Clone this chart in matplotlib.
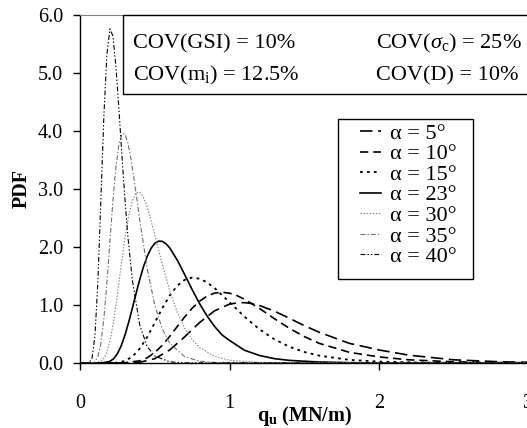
import matplotlib
matplotlib.use("Agg")
import matplotlib.pyplot as plt
from matplotlib.patches import Rectangle

plt.rcParams['font.family'] = ['Liberation Serif', 'DejaVu Serif']
plt.rcParams['mathtext.fontset'] = 'custom'
plt.rcParams['mathtext.rm'] = 'Liberation Serif'
plt.rcParams['mathtext.it'] = 'Liberation Serif:italic'
plt.rcParams['mathtext.bf'] = 'Liberation Serif:bold'
plt.rcParams['lines.scale_dashes'] = False

# ---- data ----
x_a5 = [0, 0.30, 0.40, 0.50, 0.60, 0.70, 0.80, 0.90, 1.0, 1.05, 1.1, 1.15, 1.2, 1.3, 1.4, 1.5, 1.6, 1.8, 2.0, 2.2, 2.5, 2.8, 3.0]
y_a5 = [0, 0.001, 0.013, 0.074, 0.224, 0.451, 0.698, 0.899, 1.015, 1.035, 1.041, 1.025, 0.992, 0.894, 0.772, 0.645, 0.53, 0.34, 0.225, 0.135, 0.055, 0.022, 0.012]

x_a10 = [0, 0.30, 0.40, 0.45, 0.50, 0.55, 0.60, 0.65, 0.70, 0.75, 0.80, 0.85, 0.90, 0.95, 1.0, 1.05, 1.1, 1.2, 1.3, 1.4, 1.5, 1.6, 1.8, 2.0, 2.2, 2.5, 2.8, 3.0]
y_a10 = [0, 0.004, 0.038, 0.091, 0.180, 0.305, 0.459, 0.627, 0.794, 0.944, 1.066, 1.154, 1.205, 1.220, 1.204, 1.162, 1.100, 0.941, 0.765, 0.599, 0.456, 0.339, 0.185, 0.105, 0.055, 0.02, 0.007, 0.004]

x_a15 = [0, 0.25, 0.30, 0.35, 0.40, 0.45, 0.50, 0.55, 0.60, 0.65, 0.70, 0.75, 0.80, 0.85, 0.90, 1.0, 1.1, 1.2, 1.3, 1.4, 1.5, 1.6, 1.8, 2.0, 2.3, 2.6, 3.0]
y_a15 = [0, 0.005, 0.035, 0.109, 0.248, 0.451, 0.694, 0.943, 1.163, 1.331, 1.434, 1.472, 1.453, 1.389, 1.292, 1.049, 0.799, 0.582, 0.409, 0.281, 0.190, 0.127, 0.055, 0.024, 0.007, 0.002, 0]

x_a23 = [0, 0.15, 0.20, 0.225, 0.25, 0.275, 0.30, 0.325, 0.35, 0.375, 0.40, 0.425, 0.45, 0.475, 0.50, 0.525, 0.55, 0.575, 0.60, 0.65, 0.70, 0.75, 0.80, 0.85, 0.90, 0.95, 1.0, 1.1, 1.2, 1.3, 1.4, 1.6, 1.8, 2.0, 3.0]
y_a23 = [0, 0.002, 0.028, 0.074, 0.160, 0.293, 0.474, 0.696, 0.944, 1.20, 1.444, 1.662, 1.842, 1.976, 2.062, 2.101, 2.098, 2.056, 1.985, 1.777, 1.525, 1.266, 1.023, 0.81, 0.631, 0.484, 0.39, 0.22, 0.13, 0.075, 0.045, 0.017, 0.006, 0.002, 0]

x_a30 = [0, 0.10, 0.15, 0.175, 0.20, 0.225, 0.25, 0.275, 0.30, 0.325, 0.35, 0.375, 0.40, 0.425, 0.45, 0.50, 0.55, 0.60, 0.65, 0.70, 0.75, 0.80, 0.90, 1.00, 1.20, 3.0]
y_a30 = [0, 0.0, 0.043, 0.149, 0.372, 0.724, 1.179, 1.676, 2.146, 2.533, 2.799, 2.934, 2.946, 2.855, 2.687, 2.218, 1.706, 1.247, 0.879, 0.603, 0.405, 0.268, 0.115, 0.048, 0.008, 0]

x_a35 = [0, 0.08, 0.10, 0.12, 0.14, 0.16, 0.18, 0.20, 0.22, 0.24, 0.26, 0.28, 0.30, 0.32, 0.34, 0.37, 0.40, 0.45, 0.50, 0.55, 0.60, 0.70, 0.80, 0.90, 3.0]
y_a35 = [0, 0.002, 0.02, 0.11, 0.34, 0.77, 1.38, 2.09, 2.79, 3.37, 3.76, 3.95, 3.95, 3.80, 3.53, 3.02, 2.46, 1.62, 1.00, 0.59, 0.34, 0.11, 0.03, 0.01, 0]

x_a40 = [0.0, 0.06, 0.08, 0.10, 0.12, 0.14, 0.16, 0.18, 0.20, 0.22, 0.24, 0.26, 0.28, 0.30, 0.32, 0.35, 0.40, 0.45, 0.50, 0.60, 0.70, 3.0]
y_a40 = [0.0, 0.004, 0.077, 0.47, 1.42, 2.84, 4.28, 5.32, 5.76, 5.64, 5.12, 4.39, 3.60, 2.85, 2.19, 1.43, 0.65, 0.28, 0.12, 0.02, 0.003, 0.0]

labels = ['α = 5°', 'α = 10°', 'α = 15°', 'α = 23°', 'α = 30°', 'α = 35°', 'α = 40°']
x_ticks = [0, 1, 2, 3]
y_ticks = [0, 1, 2, 3, 4, 5, 6]
cov_texts = ['COV(GSI) = 10%', r'COV($\sigma_{\mathrm{c}}$) = 25%',
             r'COV(m$_{\mathrm{i}}$) = 12.5%', 'COV(D) = 10%']

series = [(x_a5, y_a5), (x_a10, y_a10), (x_a15, y_a15), (x_a23, y_a23),
          (x_a30, y_a30), (x_a35, y_a35), (x_a40, y_a40)]
styles = [
    dict(color='black', lw=1.2, dashes=(9, 4)),
    dict(color='black', lw=1.2, dashes=(6, 3.5)),
    dict(color='black', lw=1.3, dashes=(2, 3)),
    dict(color='black', lw=1.2, linestyle='-'),
    dict(color='#808080', lw=0.8, dashes=(1, 1.2)),
    dict(color='#707070', lw=0.8, dashes=(3.5, 1.5, 1, 1.5)),
    dict(color='black', lw=0.8, dashes=(3.5, 1.5, 1, 1.5, 1, 1.5)),
]

fig = plt.figure(figsize=(5.27, 4.28), dpi=100)
ax = fig.add_axes([80 / 527, 1 - 363 / 428, 448.5 / 527, 348 / 428])

for (xs, ys), st, lab in zip(series, styles, labels):
    ax.plot(xs, ys, label=lab, **st)

ax.set_xlim(0, 3)
ax.set_ylim(0, 6)
ax.set_xticks(x_ticks)
ax.set_xticklabels([str(t) for t in x_ticks])
ax.set_yticks(y_ticks)
ax.set_yticklabels(['%.1f' % t for t in y_ticks])
ax.tick_params(axis='both', direction='out', length=5, width=1, labelsize=14.5)
ax.tick_params(axis='y', pad=7)
ax.tick_params(axis='x', pad=17)

ax.spines['right'].set_visible(False)
ax.spines['top'].set_color('#808080')
ax.spines['left'].set_linewidth(1)
ax.spines['bottom'].set_linewidth(1)

ax.set_xlabel(r'$\mathbf{q_u}$ (MN/m)', fontsize=14.5, fontweight='bold', labelpad=-6)
ax.set_ylabel('PDF', fontsize=14.5, fontweight='bold')
ax.yaxis.set_label_coords(-0.107, 0.5)

# text box with COV values
box = Rectangle((0.0959, 0.773), 0.91, 0.227, transform=ax.transAxes,
                facecolor='white', edgecolor='black', lw=1, zorder=3, clip_on=False)
ax.add_patch(box)
ax.text(0.118, 0.905, cov_texts[0], transform=ax.transAxes, fontsize=16, zorder=4)
ax.text(0.66, 0.905, cov_texts[1], transform=ax.transAxes, fontsize=16, zorder=4)
ax.text(0.118, 0.813, cov_texts[2], transform=ax.transAxes, fontsize=16, zorder=4)
ax.text(0.66, 0.813, cov_texts[3], transform=ax.transAxes, fontsize=16, zorder=4)

# legend frame (drawn separately to match the reference's padding)
leg_frame = Rectangle((0.5753, 0.2414), 0.301, 0.4598, transform=ax.transAxes,
                      facecolor='white', edgecolor='black', lw=1, zorder=3)
ax.add_patch(leg_frame)
leg = ax.legend(loc='upper left', bbox_to_anchor=(0.6243, 0.689), borderaxespad=0,
                fontsize=16, frameon=False, handlelength=0.95, handletextpad=0.4,
                labelspacing=0.0, borderpad=0.0)
leg.set_zorder(4)

fig.savefig('out.png', dpi=100)
